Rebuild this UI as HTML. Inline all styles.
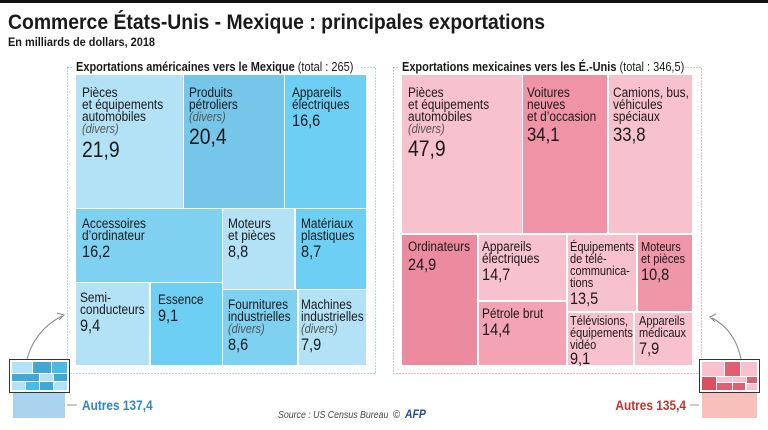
<!DOCTYPE html>
<html><head><meta charset="utf-8"><style>
html,body{margin:0;padding:0;background:#fff}
svg{display:block}
text{font-family:"Liberation Sans Narrow","Liberation Sans",sans-serif;fill:#1a1a1a;transform-box:fill-box;transform-origin:0 50%;transform:scaleX(.88)}
text.nt{transform:none}
text.e{transform-origin:100% 50%}
.l{font-size:13.5px}
.i{font-size:12.5px;font-style:italic;fill:#555}
.n{font-size:16.5px}
.b{font-size:22px}
</style></head><body>
<svg width="768" height="430" viewBox="0 0 768 430" xmlns="http://www.w3.org/2000/svg">
<rect x="0" y="0" width="768" height="3" fill="#111"/>
<text class="nt" x="8" y="29" font-size="21" font-weight="bold" textLength="537" lengthAdjust="spacingAndGlyphs" style="font-family:'Liberation Sans',sans-serif">Commerce États-Unis - Mexique : principales exportations</text>
<text class="nt" x="8" y="46" font-size="11.5" font-weight="bold" textLength="147" lengthAdjust="spacingAndGlyphs" style="font-family:'Liberation Sans',sans-serif">En milliards de dollars, 2018</text>

<!-- LEFT PANEL -->
<rect x="67.5" y="67.5" width="308" height="306" fill="none" stroke="#6aaed6" stroke-dasharray="1,2"/>
<rect x="73" y="59" width="288" height="14" fill="#fff"/>
<text x="76" y="71" font-size="12.5"><tspan font-weight="bold">Exportations américaines vers le Mexique</tspan> (total : 265)</text>
<rect x="76" y="75" width="107" height="133" fill="#b3e2f6"/>
<rect x="184" y="75" width="100" height="133" fill="#75c6e8"/>
<rect x="285" y="75" width="81" height="133" fill="#6dcff4"/>
<rect x="76" y="209" width="146" height="73" fill="#7fd1f2"/>
<rect x="223" y="209" width="71" height="80" fill="#b3e2f6"/>
<rect x="296" y="209" width="70" height="80" fill="#6dcff4"/>
<rect x="76" y="283" width="73" height="82" fill="#b3e2f6"/>
<rect x="151" y="283" width="71" height="82" fill="#6dcff4"/>
<rect x="223" y="290" width="74" height="75" fill="#7fd1f2"/>
<rect x="299" y="290" width="67" height="75" fill="#b3e2f6"/>
<text x="82" y="97" class="l">Pièces</text><text x="82" y="109" class="l">et équipements</text><text x="82" y="121" class="l">automobiles</text><text x="82" y="133" class="i">(divers)</text><text x="82" y="157" class="b">21,9</text>
<text x="189" y="97" class="l">Produits</text><text x="189" y="109" class="l">pétroliers</text><text x="189" y="121" class="i">(divers)</text><text x="189" y="144" class="b">20,4</text>
<text x="292" y="97" class="l">Appareils</text><text x="292" y="109" class="l">électriques</text><text x="292" y="126" class="n">16,6</text>
<text x="82" y="228" class="l">Accessoires</text><text x="82" y="240" class="l">d’ordinateur</text><text x="82" y="257" class="n">16,2</text>
<text x="228" y="228" class="l">Moteurs</text><text x="228" y="240" class="l">et pièces</text><text x="228" y="257" class="n">8,8</text>
<text x="301" y="228" class="l">Matériaux</text><text x="301" y="240" class="l">plastiques</text><text x="301" y="257" class="n">8,7</text>
<text x="80" y="302" class="l">Semi-</text><text x="80" y="314" class="l">conducteurs</text><text x="80" y="331" class="n">9,4</text>
<text x="158" y="304" class="l">Essence</text><text x="158" y="321" class="n">9,1</text>
<text x="228" y="309" class="l">Fournitures</text><text x="228" y="321" class="l">industrielles</text><text x="228" y="333" class="i">(divers)</text><text x="228" y="350" class="n">8,6</text>
<text x="301" y="309" class="l">Machines</text><text x="301" y="321" class="l">industrielles</text><text x="301" y="333" class="i">(divers)</text><text x="301" y="350" class="n">7,9</text>

<!-- left mini -->
<path d="M27 359 Q35 330 62 316" fill="none" stroke="#888" stroke-width="1"/>
<path d="M57 313 L64 315 L59 320" fill="none" stroke="#888"/>
<rect x="13" y="393" width="52" height="25" fill="#a9d3ef"/>
<rect x="9.5" y="359.5" width="60" height="33" fill="#fff" stroke="#333"/>
<rect x="12" y="362" width="20" height="11" fill="#b3e2f6"/><rect x="33" y="362" width="18" height="11" fill="#3fa8d6"/><rect x="52" y="362" width="15" height="11" fill="#47bce8"/>
<rect x="12" y="374" width="27" height="7" fill="#3fa8d6"/><rect x="40" y="374" width="13" height="7" fill="#b3e2f6"/><rect x="54" y="374" width="13" height="7" fill="#3fa8d6"/>
<rect x="12" y="382" width="13" height="8" fill="#b3e2f6"/><rect x="26" y="382" width="13" height="8" fill="#47bce8"/><rect x="40" y="382" width="13" height="8" fill="#3fa8d6"/><rect x="54" y="382" width="13" height="8" fill="#b3e2f6"/>
<line x1="67" y1="405" x2="77" y2="405" stroke="#999"/>
<text x="82" y="410" font-size="13.5" font-weight="bold" style="fill:#2f87c2">Autres 137,4</text>

<!-- RIGHT PANEL -->
<rect x="393.5" y="67.5" width="308" height="306" fill="none" stroke="#d47a7a" stroke-dasharray="1,2"/>
<rect x="399" y="59" width="286" height="14" fill="#fff"/>
<text x="402" y="71" font-size="12.5"><tspan font-weight="bold">Exportations mexicaines vers les É.-Unis</tspan> (total : 346,5)</text>
<rect x="402" y="75" width="120" height="158" fill="#f8c1ce"/>
<rect x="523" y="75" width="84" height="158" fill="#f093a7"/>
<rect x="609" y="75" width="83" height="158" fill="#f8c1ce"/>
<rect x="402" y="235" width="75" height="130" fill="#ec8ba0"/>
<rect x="479" y="235" width="87" height="65" fill="#f8c1ce"/>
<rect x="479" y="302" width="87" height="63" fill="#f3a3b4"/>
<rect x="568" y="235" width="68" height="76" fill="#f8c1ce"/>
<rect x="638" y="235" width="54" height="76" fill="#ef96a9"/>
<rect x="568" y="313" width="65" height="52" fill="#f8c1ce"/>
<rect x="635" y="313" width="57" height="52" fill="#f8c1ce"/>
<text x="408" y="97" class="l">Pièces</text><text x="408" y="109" class="l">et équipements</text><text x="408" y="121" class="l">automobiles</text><text x="408" y="133" class="i">(divers)</text><text x="408" y="156" class="b">47,9</text>
<text x="527" y="97" class="l">Voitures</text><text x="527" y="109" class="l">neuves</text><text x="527" y="121" class="l">et d’occasion</text><text x="527" y="141" style="font-size:19px">34,1</text>
<text x="613" y="97" class="l">Camions, bus,</text><text x="613" y="109" class="l">véhicules</text><text x="613" y="121" class="l">spéciaux</text><text x="613" y="141" style="font-size:19px">33,8</text>
<text x="408" y="251" class="l">Ordinateurs</text><text x="408" y="270" class="n">24,9</text>
<text x="482" y="251" class="l">Appareils</text><text x="482" y="263" class="l">électriques</text><text x="482" y="280" class="n">14,7</text>
<text x="482" y="318" class="l">Pétrole brut</text><text x="482" y="335" class="n">14,4</text>
<text x="570" y="251" font-size="12.5">Équipements</text><text x="570" y="263" font-size="12.5">de télé-</text><text x="570" y="275" font-size="12.5">communica-</text><text x="570" y="287" font-size="12.5">tions</text><text x="570" y="304" class="n">13,5</text>
<text x="641" y="251" font-size="12.5">Moteurs</text><text x="641" y="263" font-size="12.5">et pièces</text><text x="641" y="280" class="n">10,8</text>
<text x="570" y="325" font-size="12.5">Télévisions,</text><text x="570" y="337" font-size="12.5">équipements</text><text x="570" y="349" font-size="12.5">vidéo</text><text x="570" y="364" class="n">9,1</text>
<text x="639" y="325" font-size="12.5">Appareils</text><text x="639" y="337" font-size="12.5">médicaux</text><text x="639" y="354" class="n">7,9</text>

<!-- right mini -->
<path d="M741 359 Q735 330 712 318" fill="none" stroke="#888"/>
<path d="M716 314 L710 317 L715 322" fill="none" stroke="#888"/>
<rect x="702" y="393" width="55" height="25" fill="#f7c0bb"/>
<rect x="699.5" y="359.5" width="60" height="33" fill="#fff" stroke="#333"/>
<rect x="702" y="362" width="22" height="14" fill="#f8c1ce"/><rect x="725" y="362" width="15" height="14" fill="#e0606f"/><rect x="741" y="362" width="16" height="14" fill="#f8c1ce"/>
<rect x="702" y="377" width="14" height="13" fill="#d9505f"/><rect x="717" y="377" width="15" height="5" fill="#f8c1ce"/><rect x="717" y="383" width="15" height="7" fill="#e0606f"/><rect x="733" y="377" width="13" height="5" fill="#f8c1ce"/><rect x="733" y="383" width="12" height="7" fill="#e0606f"/><rect x="747" y="377" width="10" height="6" fill="#e0606f"/><rect x="747" y="384" width="10" height="6" fill="#f8c1ce"/>
<line x1="690" y1="405" x2="699" y2="405" stroke="#999"/>
<text class="e" x="686" y="410" font-size="13.5" font-weight="bold" text-anchor="end" style="fill:#b8392e">Autres 135,4</text>

<text x="278" y="418" font-size="10" font-style="italic" style="fill:#444">Source : US Census Bureau</text>
<text x="393" y="418" font-size="11" style="fill:#333">©</text>
<text x="405" y="418" font-size="12" font-weight="bold" font-style="italic" style="fill:#1f4e9c">AFP</text>
</svg>
</body></html>
